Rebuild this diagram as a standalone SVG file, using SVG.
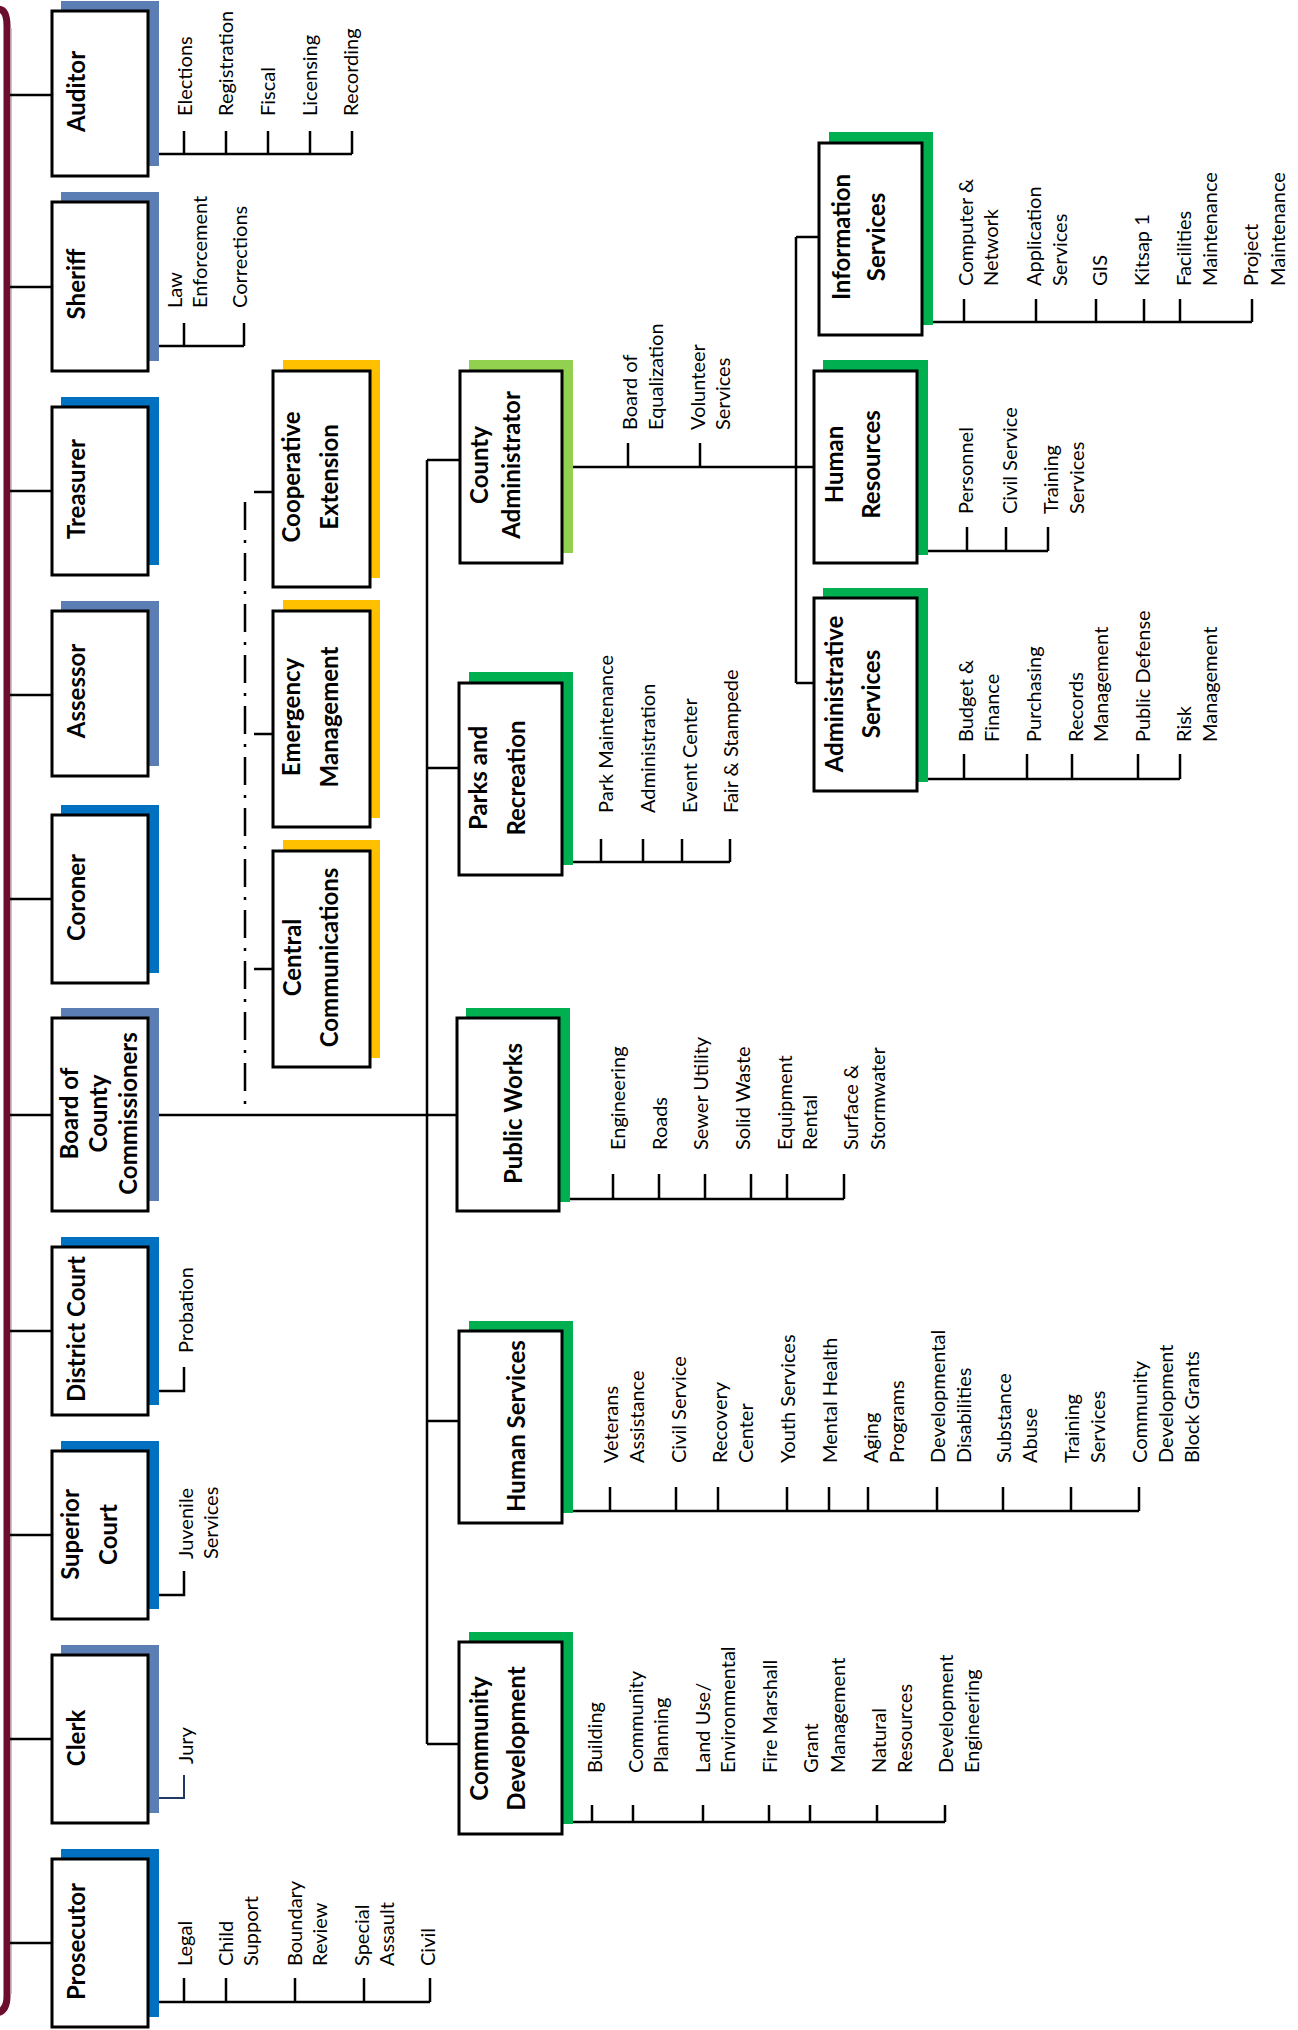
<svg xmlns="http://www.w3.org/2000/svg" width="1298" height="2030" viewBox="0 0 1298 2030">
<style>
.box{fill:#fff;stroke:#000;stroke-width:3}
.sb{fill:#5b7fb4}.bb{fill:#0070c0}.gr{fill:#00b050}.lg{fill:#92d050}.yl{fill:#ffc000}
.t{font-family:Lato,"Liberation Sans",sans-serif;font-weight:700;font-size:24px;text-anchor:middle;fill:#000}
.s{font-family:Lato,"Liberation Sans",sans-serif;font-size:20px;fill:#000}
.c{stroke:#000;stroke-width:2.5;fill:none}
.dd{stroke:#000;stroke-width:2.5;fill:none;stroke-dasharray:28 10 3 10}
</style>
<rect width="1298" height="2030" fill="#fff"/>
<path d="M-6,9 L-2,9 Q7,9 7,26 L7,1996 Q7,2013 -6,2013" fill="none" stroke="#6b0d2e" stroke-width="7"/>
<path d="M11,28 L11,1994" stroke="#c9a3ab" stroke-width="1.5"/>
<g id="connectors">
<path class="c" d="M10,95H52M10,287H52M10,491H52M10,695H52M10,899H52M10,1115H52M10,1331H52M10,1535H52M10,1739H52M10,1943H52"/>
<path class="c" d="M148,1115H457"/>
<path class="dd" d="M245,502V1115"/>
<path class="c" d="M254,492H273M254,734H273M254,969H273"/>
<path class="c" d="M427,460V1744M427,460H460M427,768H459M427,1421H459M427,1744H459"/>
<path class="c" d="M573,467H814M628,467V443M700,467V443"/>
<path class="c" d="M796,237V683M796,237H819M796,683H814"/>
<path class="c" d="M933,322H1252M964,322V299M1036,322V299M1096,322V299M1144,322V299M1180,322V299M1252,322V299"/>
<path class="c" d="M928,551H1048M967,551V527M1006,551V527M1048,551V527"/>
<path class="c" d="M928,779H1180M964,779V754M1027,779V754M1072,779V754M1138,779V754M1180,779V754"/>
<path class="c" d="M573,862H730M601,862V839M643,862V839M682,862V839M730,862V839"/>
<path class="c" d="M570,1199H844M613,1199V1174M659,1199V1174M705,1199V1174M751,1199V1174M787,1199V1174M844,1199V1174"/>
<path class="c" d="M573,1511H1139M610,1511V1487M676,1511V1487M718,1511V1487M787,1511V1487M829,1511V1487M868,1511V1487M937,1511V1487M1003,1511V1487M1071,1511V1487M1139,1511V1487"/>
<path class="c" d="M573,1822H945M592,1822V1805M633,1822V1805M703,1822V1805M769,1822V1805M810,1822V1805M877,1822V1805M945,1822V1805"/>
<path class="c" d="M159,154H352M184,154V131M226,154V131M268,154V131M310,154V131M352,154V131"/>
<path class="c" d="M159,346H244M184,346V323M244,346V323"/>
<path class="c" d="M159,1391H184V1367"/>
<path class="c" d="M159,1595H184V1571"/>
<path d="M159,1798H184V1775" fill="none" stroke="#1f3864" stroke-width="2"/>
<path class="c" d="M159,2002H430M184,2002V1978M226,2002V1978M295,2002V1978M364,2002V1978M430,2002V1978"/>
</g>
<g id="auditor"><rect class="sb" x="61" y="1" width="98" height="165"/><rect class="box" x="52" y="11" width="96" height="165"/>
<text class="t" transform="translate(85,91.5) rotate(-90)">Auditor</text>
<text class="s" transform="translate(192,116) rotate(-90)">Elections</text>
<text class="s" transform="translate(233,116) rotate(-90)">Registration</text>
<text class="s" transform="translate(275,116) rotate(-90)">Fiscal</text>
<text class="s" transform="translate(317,116) rotate(-90)">Licensing</text>
<text class="s" transform="translate(358,116) rotate(-90)">Recording</text></g>
<g id="sheriff"><rect class="sb" x="61" y="192" width="98" height="169"/><rect class="box" x="52" y="202" width="96" height="169"/>
<text class="t" transform="translate(85,284) rotate(-90)">Sheriff</text>
<text class="s" transform="translate(182,308) rotate(-90)"><tspan x="0" y="0">Law</tspan><tspan x="0" y="25">Enforcement</tspan></text>
<text class="s" transform="translate(247,308) rotate(-90)">Corrections</text></g>
<g id="treasurer"><rect class="bb" x="61" y="397" width="98" height="168"/><rect class="box" x="52" y="407" width="96" height="168"/>
<text class="t" transform="translate(85,489) rotate(-90)">Treasurer</text></g>
<g id="assessor"><rect class="sb" x="61" y="601" width="98" height="165"/><rect class="box" x="52" y="611" width="96" height="165"/>
<text class="t" transform="translate(85,691) rotate(-90)">Assessor</text></g>
<g id="coroner"><rect class="bb" x="61" y="805" width="98" height="168"/><rect class="box" x="52" y="815" width="96" height="168"/>
<text class="t" transform="translate(85,897.5) rotate(-90)">Coroner</text></g>
<g id="board"><rect class="sb" x="61" y="1008" width="98" height="193"/><rect class="box" x="52" y="1018" width="96" height="193"/>
<text class="t" transform="translate(78,1113.5) rotate(-90)"><tspan x="0" y="0">Board of</tspan><tspan x="0" y="28.5">County</tspan><tspan x="0" y="59">Commissioners</tspan></text></g>
<g id="district-court"><rect class="bb" x="61" y="1237" width="98" height="168"/><rect class="box" x="52" y="1247" width="96" height="168"/>
<text class="t" transform="translate(85,1329) rotate(-90)">District Court</text>
<text class="s" transform="translate(193,1353) rotate(-90)">Probation</text></g>
<g id="superior-court"><rect class="bb" x="61" y="1441" width="98" height="168"/><rect class="box" x="52" y="1451" width="96" height="168"/>
<text class="t" transform="translate(79,1534.5) rotate(-90)"><tspan x="0" y="0">Superior</tspan><tspan x="0" y="38">Court</tspan></text>
<text class="s" transform="translate(193,1559) rotate(-90)"><tspan x="0" y="0">Juvenile</tspan><tspan x="0" y="25">Services</tspan></text></g>
<g id="clerk"><rect class="sb" x="61" y="1645" width="98" height="168"/><rect class="box" x="52" y="1655" width="96" height="168"/>
<text class="t" transform="translate(85,1738) rotate(-90)">Clerk</text>
<text class="s" transform="translate(193,1764) rotate(-90)">Jury</text></g>
<g id="prosecutor"><rect class="bb" x="61" y="1849" width="98" height="168"/><rect class="box" x="52" y="1859" width="96" height="168"/>
<text class="t" transform="translate(85,1941.5) rotate(-90)">Prosecutor</text>
<text class="s" transform="translate(192,1966) rotate(-90)">Legal</text>
<text class="s" transform="translate(233,1966) rotate(-90)"><tspan x="0" y="0">Child</tspan><tspan x="0" y="25">Support</tspan></text>
<text class="s" transform="translate(302,1966) rotate(-90)"><tspan x="0" y="0">Boundary</tspan><tspan x="0" y="25">Review</tspan></text>
<text class="s" transform="translate(369,1966) rotate(-90)"><tspan x="0" y="0">Special</tspan><tspan x="0" y="25">Assault</tspan></text>
<text class="s" transform="translate(435,1966) rotate(-90)">Civil</text></g>
<g id="cooperative-extension"><rect class="yl" x="283" y="360" width="97" height="218"/><rect class="box" x="273" y="371" width="97" height="216"/>
<text class="t" transform="translate(300,477) rotate(-90)"><tspan x="0" y="0">Cooperative</tspan><tspan x="0" y="38">Extension</tspan></text></g>
<g id="emergency-management"><rect class="yl" x="283" y="600" width="97" height="218"/><rect class="box" x="273" y="611" width="97" height="216"/>
<text class="t" transform="translate(300,717) rotate(-90)"><tspan x="0" y="0">Emergency</tspan><tspan x="0" y="38">Management</tspan></text></g>
<g id="central-communications"><rect class="yl" x="283" y="840" width="97" height="218"/><rect class="box" x="273" y="851" width="97" height="216"/>
<text class="t" transform="translate(301,957.5) rotate(-90)"><tspan x="0" y="0">Central</tspan><tspan x="0" y="37">Communications</tspan></text></g>
<g id="county-administrator"><rect class="lg" x="469" y="360" width="104" height="193"/><rect class="box" x="460" y="371" width="102" height="192"/>
<text class="t" transform="translate(488,465) rotate(-90)"><tspan x="0" y="0">County</tspan><tspan x="0" y="32">Administrator</tspan></text>
<text class="s" transform="translate(637,430) rotate(-90)"><tspan x="0" y="0">Board of</tspan><tspan x="0" y="26">Equalization</tspan></text>
<text class="s" transform="translate(705,430) rotate(-90)"><tspan x="0" y="0">Volunteer</tspan><tspan x="0" y="25">Services</tspan></text></g>
<g id="information-services"><rect class="gr" x="829" y="132" width="104" height="193"/><rect class="box" x="819" y="143" width="103" height="192"/>
<text class="t" transform="translate(850,237) rotate(-90)"><tspan x="0" y="0">Information</tspan><tspan x="0" y="35">Services</tspan></text>
<text class="s" transform="translate(973,286) rotate(-90)"><tspan x="0" y="0">Computer &amp;</tspan><tspan x="0" y="25">Network</tspan></text>
<text class="s" transform="translate(1041,286) rotate(-90)"><tspan x="0" y="0">Application</tspan><tspan x="0" y="26">Services</tspan></text>
<text class="s" transform="translate(1107,286) rotate(-90)">GIS</text>
<text class="s" transform="translate(1149,286) rotate(-90)">Kitsap 1</text>
<text class="s" transform="translate(1191,286) rotate(-90)"><tspan x="0" y="0">Facilities</tspan><tspan x="0" y="26">Maintenance</tspan></text>
<text class="s" transform="translate(1258,286) rotate(-90)"><tspan x="0" y="0">Project</tspan><tspan x="0" y="27">Maintenance</tspan></text></g>
<g id="human-resources"><rect class="gr" x="823" y="360" width="105" height="195"/><rect class="box" x="814" y="371" width="103" height="192"/>
<text class="t" transform="translate(843,464.5) rotate(-90)"><tspan x="0" y="0">Human</tspan><tspan x="0" y="37">Resources</tspan></text>
<text class="s" transform="translate(973,514) rotate(-90)">Personnel</text>
<text class="s" transform="translate(1017,514) rotate(-90)">Civil Service</text>
<text class="s" transform="translate(1058,514) rotate(-90)"><tspan x="0" y="0">Training</tspan><tspan x="0" y="26">Services</tspan></text></g>
<g id="administrative-services"><rect class="gr" x="823" y="588" width="105" height="194"/><rect class="box" x="814" y="598" width="103" height="193"/>
<text class="t" transform="translate(843,694) rotate(-90)"><tspan x="0" y="0">Administrative</tspan><tspan x="0" y="37">Services</tspan></text>
<text class="s" transform="translate(973,742) rotate(-90)"><tspan x="0" y="0">Budget &amp;</tspan><tspan x="0" y="26">Finance</tspan></text>
<text class="s" transform="translate(1041,742) rotate(-90)">Purchasing</text>
<text class="s" transform="translate(1083,742) rotate(-90)"><tspan x="0" y="0">Records</tspan><tspan x="0" y="25">Management</tspan></text>
<text class="s" transform="translate(1150,742) rotate(-90)">Public Defense</text>
<text class="s" transform="translate(1191,742) rotate(-90)"><tspan x="0" y="0">Risk</tspan><tspan x="0" y="26">Management</tspan></text></g>
<g id="parks-and-recreation"><rect class="gr" x="469" y="672" width="104" height="193"/><rect class="box" x="459" y="683" width="103" height="192"/>
<text class="t" transform="translate(487,778) rotate(-90)"><tspan x="0" y="0">Parks and</tspan><tspan x="0" y="38">Recreation</tspan></text>
<text class="s" transform="translate(613,813) rotate(-90)">Park Maintenance</text>
<text class="s" transform="translate(655,813) rotate(-90)">Administration</text>
<text class="s" transform="translate(697,813) rotate(-90)">Event Center</text>
<text class="s" transform="translate(738,813) rotate(-90)">Fair &amp; Stampede</text></g>
<g id="public-works"><rect class="gr" x="466" y="1008" width="104" height="194"/><rect class="box" x="457" y="1018" width="102" height="193"/>
<text class="t" transform="translate(522,1113.5) rotate(-90)">Public Works</text>
<text class="s" transform="translate(625,1150) rotate(-90)">Engineering</text>
<text class="s" transform="translate(667,1150) rotate(-90)">Roads</text>
<text class="s" transform="translate(708,1150) rotate(-90)">Sewer Utility</text>
<text class="s" transform="translate(750,1150) rotate(-90)">Solid Waste</text>
<text class="s" transform="translate(792,1150) rotate(-90)"><tspan x="0" y="0">Equipment</tspan><tspan x="0" y="25">Rental</tspan></text>
<text class="s" transform="translate(858,1150) rotate(-90)"><tspan x="0" y="0">Surface &amp;</tspan><tspan x="0" y="27">Stormwater</tspan></text></g>
<g id="human-services"><rect class="gr" x="469" y="1321" width="104" height="192"/><rect class="box" x="459" y="1331" width="103" height="192"/>
<text class="t" transform="translate(525,1426) rotate(-90)">Human Services</text>
<text class="s" transform="translate(618,1463) rotate(-90)"><tspan x="0" y="0">Veterans</tspan><tspan x="0" y="26">Assistance</tspan></text>
<text class="s" transform="translate(686,1463) rotate(-90)">Civil Service</text>
<text class="s" transform="translate(727,1463) rotate(-90)"><tspan x="0" y="0">Recovery</tspan><tspan x="0" y="26">Center</tspan></text>
<text class="s" transform="translate(795,1463) rotate(-90)">Youth Services</text>
<text class="s" transform="translate(837,1463) rotate(-90)">Mental Health</text>
<text class="s" transform="translate(878,1463) rotate(-90)"><tspan x="0" y="0">Aging</tspan><tspan x="0" y="26">Programs</tspan></text>
<text class="s" transform="translate(945,1463) rotate(-90)"><tspan x="0" y="0">Developmental</tspan><tspan x="0" y="26">Disabilities</tspan></text>
<text class="s" transform="translate(1011,1463) rotate(-90)"><tspan x="0" y="0">Substance</tspan><tspan x="0" y="26">Abuse</tspan></text>
<text class="s" transform="translate(1079,1463) rotate(-90)"><tspan x="0" y="0">Training</tspan><tspan x="0" y="26">Services</tspan></text>
<text class="s" transform="translate(1147,1463) rotate(-90)"><tspan x="0" y="0">Community</tspan><tspan x="0" y="26">Development</tspan><tspan x="0" y="52">Block Grants</tspan></text></g>
<g id="community-development"><rect class="gr" x="469" y="1632" width="104" height="192"/><rect class="box" x="459" y="1642" width="103" height="192"/>
<text class="t" transform="translate(488,1738.5) rotate(-90)"><tspan x="0" y="0">Community</tspan><tspan x="0" y="37">Development</tspan></text>
<text class="s" transform="translate(602,1773) rotate(-90)">Building</text>
<text class="s" transform="translate(643,1773) rotate(-90)"><tspan x="0" y="0">Community</tspan><tspan x="0" y="25">Planning</tspan></text>
<text class="s" transform="translate(710,1773) rotate(-90)"><tspan x="0" y="0">Land Use/</tspan><tspan x="0" y="25">Environmental</tspan></text>
<text class="s" transform="translate(777,1773) rotate(-90)">Fire Marshall</text>
<text class="s" transform="translate(818,1773) rotate(-90)"><tspan x="0" y="0">Grant</tspan><tspan x="0" y="27">Management</tspan></text>
<text class="s" transform="translate(886,1773) rotate(-90)"><tspan x="0" y="0">Natural</tspan><tspan x="0" y="26">Resources</tspan></text>
<text class="s" transform="translate(953,1773) rotate(-90)"><tspan x="0" y="0">Development</tspan><tspan x="0" y="26">Engineering</tspan></text></g>
</svg>
